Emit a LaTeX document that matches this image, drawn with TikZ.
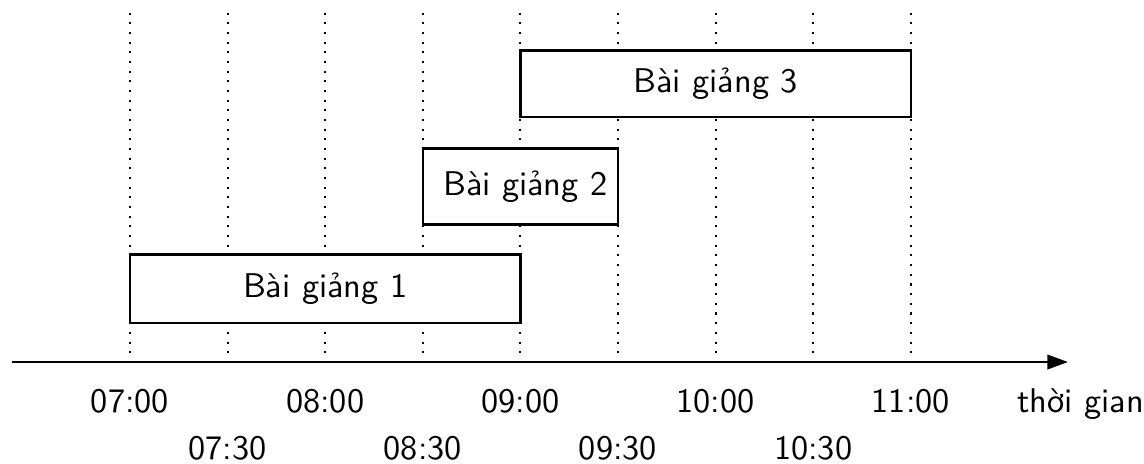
\documentclass[tikz,border=0pt]{standalone}
\usepackage{fontspec}
\usetikzlibrary{arrows.meta}
\begin{document}
\begin{tikzpicture}[x=1cm,y=1cm,
  grid/.style={line width=0.6pt,dash pattern=on 0.6pt off 2.22pt},
  lecture/.style={draw,line width=0.75pt,fill=white,inner sep=0pt,font=\sffamily},
  tlabel/.style={anchor=base,font=\sffamily},
  axisline/.style={line width=0.75pt,-{Triangle[length=6pt,width=4.2pt]}}]
\useasboundingbox (-1.332,-1.035) rectangle (10.389,3.709);
% grid lines
\foreach \i in {0,...,8}{
  \coordinate (t\i) at (\i,3.58);
  \coordinate (b\i) at (\i,0.05);
  \draw[grid] (t\i) -- (b\i);
}
% axis
\coordinate (axs) at (-1.21,0);
\coordinate (axe) at (9.61,0);
\draw[axisline] (axs) -- (axe);
% lectures
\node[lecture,minimum width=4cm,minimum height=0.7cm] (l1) at (2,0.75) {Bài giảng 1};
\node[lecture,minimum width=2cm,minimum height=0.78cm] (l2) at (4,1.8) {\hspace*{0.1cm}Bài giảng 2};
\node[lecture,minimum width=4cm,minimum height=0.68cm] (l3) at (6,2.85) {Bài giảng 3};
% labels
\node[tlabel] (h7) at (0,-0.52) {07:00};
\node[tlabel] (h8) at (2,-0.52) {08:00};
\node[tlabel] (h9) at (4,-0.52) {09:00};
\node[tlabel] (h10) at (6,-0.52) {10:00};
\node[tlabel] (h11) at (8,-0.52) {11:00};
\node[tlabel] (h730) at (1,-1.0) {07:30};
\node[tlabel] (h830) at (3,-1.0) {08:30};
\node[tlabel] (h930) at (5,-1.0) {09:30};
\node[tlabel] (h1030) at (7,-1.0) {10:30};
\node[tlabel] (tg) at (9.74,-0.52) {thời gian};
\end{tikzpicture}
\end{document}
